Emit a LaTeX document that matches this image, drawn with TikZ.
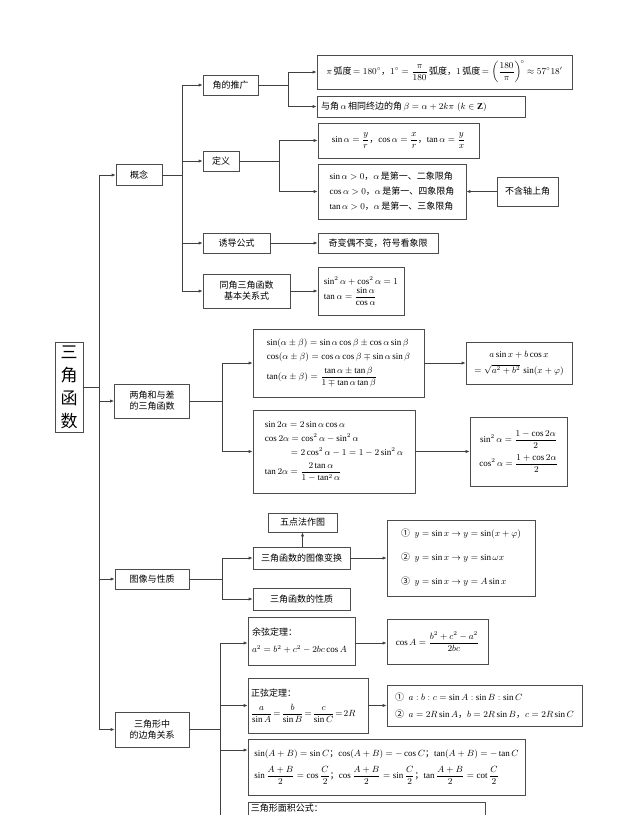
\documentclass[tikz,border=0pt]{standalone}
\usepackage{amsmath}
\usepackage{fontspec}
\setmainfont{Liberation Serif}
\newfontfamily\zhfont{Noto Sans CJK SC}
\newcommand\zh[1]{{\zhfont #1}}
\usetikzlibrary{arrows.meta}
\begin{document}
\begin{tikzpicture}[x=1pt,y=-1pt,
  every node/.style={font=\fontsize{9}{11}\selectfont},
  box/.style={draw=black!70, line width=0.7pt, inner sep=2pt, align=center},
  sz/.style 2 args={minimum width=#1pt, minimum height=#2pt},
  ln/.style={draw=black!75, line width=0.7pt},
  arr/.style={ln, -{Latex[length=4pt,width=3.2pt]}}]
\useasboundingbox (0,0) rectangle (640,815);
\clip (0,0) rectangle (640,815);
\fill[white] (0,0) rectangle (640,815);

% root
\node[box, sz={28}{90}, font=\fontsize{17}{23}\selectfont] (root) at (69,387) {\zh{三}\\\zh{角}\\\zh{函}\\\zh{数}};

% level 1
\node[box, sz={46}{21}] (gn) at (139,175) {\zh{概念}};
\node[box, sz={75}{34}] (lj) at (152,401) {\zh{两角和与差}\\\zh{的三角函数}};
\node[box, sz={74}{20}] (tx) at (152,579) {\zh{图像与性质}};
\node[box, sz={74}{35}] (sj) at (152,729.5) {\zh{三角形中}\\\zh{的边角关系}};

\coordinate (T) at (99,387);
\draw[ln] (root.east) -- (T);
\draw[ln] (T |- gn.west) -- (T |- sj.west);
\draw[arr] (T |- gn.west) -- (gn.west);
\draw[arr] (T |- lj.west) -- (lj.west);
\draw[arr] (T |- tx.west) -- (tx.west);
\draw[arr] (T |- sj.west) -- (sj.west);

% concept children
\node[box, sz={55}{20}] (tg) at (230.5,85) {\zh{角的推广}};
\node[box, sz={36}{20}] (dy) at (221,161) {\zh{定义}};
\node[box, sz={67}{20}] (yd) at (236.5,243) {\zh{诱导公式}};
\node[box, sz={87}{34}] (tj) at (246.5,291) {\zh{同角三角函数}\\\zh{基本关系式}};

\coordinate (B1) at (182,175);
\draw[ln] (gn.east) -- (B1);
\draw[ln] (B1 |- tg.west) -- (B1 |- tj.west);
\draw[arr] (B1 |- tg.west) -- (tg.west);
\draw[arr] (B1 |- dy.west) -- (dy.west);
\draw[arr] (B1 |- yd.west) -- (yd.west);
\draw[arr] (B1 |- tj.west) -- (tj.west);

% angle generalization
\node[box, sz={255}{34}] (hd) at (444.5,72) {$\pi$\,\zh{弧度}$\,=180^\circ$\zh{，}$1^\circ=\dfrac{\pi}{180}$\,\zh{弧度}\zh{，}$1$\,\zh{弧度}$\,=\left(\dfrac{180}{\pi}\right)^{\!\circ}\approx57^\circ18'$};
\node[box, sz={208}{21}, text width=200pt, align=left] (zj) at (421,106.5) {\zh{与角}$\,\alpha\,$\zh{相同终边的角}$\,\beta=\alpha+2k\pi\ (k\in\mathbf{Z})$};
\coordinate (B2) at (288,85);
\draw[ln] (tg.east) -- (B2);
\draw[ln] (B2 |- hd.west) -- (B2 |- zj.west);
\draw[arr] (B2 |- hd.west) -- (hd.west);
\draw[arr] (B2 |- zj.west) -- (zj.west);

% definition
\node[box, sz={161}{35}] (dy1) at (398.5,140.5) {$\sin\alpha=\dfrac{y}{r}$\zh{，}$\cos\alpha=\dfrac{x}{r}$\zh{，}$\tan\alpha=\dfrac{y}{x}$};
\node[box, sz={148}{55}, align=left, font=\fontsize{9}{15}\selectfont] (dy2) at (392,191.5) {$\sin\alpha>0$\zh{，}$\alpha\,$\zh{是第一、二象限角}\\$\cos\alpha>0$\zh{，}$\alpha\,$\zh{是第一、四象限角}\\$\tan\alpha>0$\zh{，}$\alpha\,$\zh{是第一、三象限角}};
\node[box, sz={61}{29}] (bh) at (527.5,191.5) {\zh{不含轴上角}};
\coordinate (B3) at (279,161);
\draw[ln] (dy.east) -- (B3);
\draw[ln] (B3 |- dy1.west) -- (B3 |- dy2.west);
\draw[arr] (B3 |- dy1.west) -- (dy1.west);
\draw[arr] (B3 |- dy2.west) -- (dy2.west);
\draw[arr] (bh.west) -- (dy2.east);

% induction / same angle
\node[box, sz={120}{20}] (yd1) at (378,243) {\zh{奇变偶不变，符号看象限}};
\node[box, sz={86}{48}, align=left] (tj1) at (361,291) {$\sin^2\alpha+\cos^2\alpha=1$\\[1pt]$\tan\alpha=\dfrac{\sin\alpha}{\cos\alpha}$};
\draw[arr] (yd.east) -- (yd1.west);
\draw[arr] (tj.east) -- (tj1.west);

% sum and difference
\node[box, sz={171}{68}, align=left, font=\fontsize{9}{14}\selectfont] (lj1) at (338.5,363) {$\sin(\alpha\pm\beta)=\sin\alpha\cos\beta\pm\cos\alpha\sin\beta$\\$\cos(\alpha\pm\beta)=\cos\alpha\cos\beta\mp\sin\alpha\sin\beta$\\[5pt]$\tan(\alpha\pm\beta)=\dfrac{\tan\alpha\pm\tan\beta}{1\mp\tan\alpha\tan\beta}$};
\node[box, sz={162}{83}, align=left, font=\fontsize{9}{14}\selectfont] (lj2) at (334,451.5) {$\sin2\alpha=2\sin\alpha\cos\alpha$\\$\cos2\alpha=\cos^2\alpha-\sin^2\alpha$\\\hspace*{26pt}$=2\cos^2\alpha-1=1-2\sin^2\alpha$\\[5pt]$\tan2\alpha=\dfrac{2\tan\alpha}{1-\tan^2\alpha}$};
\node[box, sz={106}{42}, font=\fontsize{9}{13}\selectfont] (lj3) at (519,363) {$a\sin x+b\cos x$\\[3pt]$=\sqrt{a^2+b^2}\,\sin(x+\varphi)$};
\node[box, sz={97}{69}, font=\fontsize{9}{24}\selectfont] (lj4) at (518.5,451.5) {$\sin^2\alpha=\dfrac{1-\cos2\alpha}{2}$\\$\cos^2\alpha=\dfrac{1+\cos2\alpha}{2}$};
\coordinate (B4) at (222,401);
\draw[ln] (lj.east) -- (B4);
\draw[ln] (B4 |- lj1.west) -- (B4 |- lj2.west);
\draw[arr] (B4 |- lj1.west) -- (lj1.west);
\draw[arr] (B4 |- lj2.west) -- (lj2.west);
\draw[arr] (lj1.east) -- (lj3.west);
\draw[arr] (lj2.east) -- (lj4.west);

% graphs and properties
\node[box, sz={97}{22}] (tx1) at (301.5,558) {\zh{三角函数的图像变换}};
\node[box, sz={69}{19}] (wd) at (302.5,522.5) {\zh{五点法作图}};
\node[box, sz={97}{22}] (tx2) at (301.5,599) {\zh{三角函数的性质}};
\node[box, sz={148}{76}, align=left, font=\fontsize{9}{24}\selectfont] (tx3) at (461,558) {\zh{①}\ \ $y=\sin x\to y=\sin(x+\varphi)$\\\zh{②}\ \ $y=\sin x\to y=\sin\omega x$\\\zh{③}\ \ $y=\sin x\to y=A\sin x$};
\coordinate (B5) at (222,579);
\draw[ln] (tx.east) -- (B5);
\draw[ln] (B5 |- tx1.west) -- (B5 |- tx2.west);
\draw[arr] (B5 |- tx1.west) -- (tx1.west);
\draw[arr] (B5 |- tx2.west) -- (tx2.west);
\draw[arr] (tx1.north -| wd.south) -- (wd.south);
\draw[arr] (tx1.east) -- (tx3.west);

% triangle relations
\node[box, sz={107}{48}, text width=99pt, align=left, font=\fontsize{9}{17}\selectfont] (sj1) at (301.5,641) {\zh{余弦定理：}\\$a^2=b^2+c^2-2bc\cos A$};
\node[box, sz={101}{45}] (sj1r) at (437.5,641.5) {$\cos A=\dfrac{b^2+c^2-a^2}{2bc}$};
\node[box, sz={120}{55}, inner xsep=3pt, text width=114pt, align=left, font=\fontsize{9}{20}\selectfont] (sj2) at (308,705.5) {\zh{正弦定理：}\\\mbox{$\dfrac{a}{\sin A}\!=\!\dfrac{b}{\sin B}\!=\!\dfrac{c}{\sin C}\!=\!2R$}};
\node[box, sz={195}{41}, align=left, font=\fontsize{9}{17}\selectfont] (sj2r) at (484.5,705.5) {\zh{①}\ \ $a:b:c=\sin A:\sin B:\sin C$\\\zh{②}\ \ $a=2R\sin A$\zh{，}$b=2R\sin B$\zh{，}$c=2R\sin C$};
\node[box, sz={277}{56}, align=left, font=\fontsize{9}{22}\selectfont] (sj3) at (386.5,767) {$\sin(A+B)=\sin C$\zh{；}$\cos(A+B)=-\cos C$\zh{；}$\tan(A+B)=-\tan C$\\$\sin\dfrac{A+B}{2}=\cos\dfrac{C}{2}$\zh{；}$\cos\dfrac{A+B}{2}=\sin\dfrac{C}{2}$\zh{；}$\tan\dfrac{A+B}{2}=\cot\dfrac{C}{2}$};
\node[box, sz={237}{40}, anchor=north] (mj) at (366.5,802) {};
\node[anchor=west, inner sep=0pt] (mjt) at ([xshift=3pt,yshift=-6.5pt]mj.north west) {\zh{三角形面积公式：}};
\coordinate (B6) at (220,729.5);
\coordinate (S1) at (220,643);
\coordinate (S3) at (220,750);
\draw[ln] (sj.east) -- (B6);
\draw[ln] (S1) -- (220,830);
\draw[arr] (S1) -- (sj1.west |- S1);
\draw[arr] (B6 |- sj2.west) -- (sj2.west);
\draw[arr] (S3) -- (sj3.west |- S3);
\draw[arr] (sj1.east |- S1) -- (sj1r.west |- S1);
\draw[arr] (sj2.east) -- (sj2r.west);
\end{tikzpicture}
\end{document}
